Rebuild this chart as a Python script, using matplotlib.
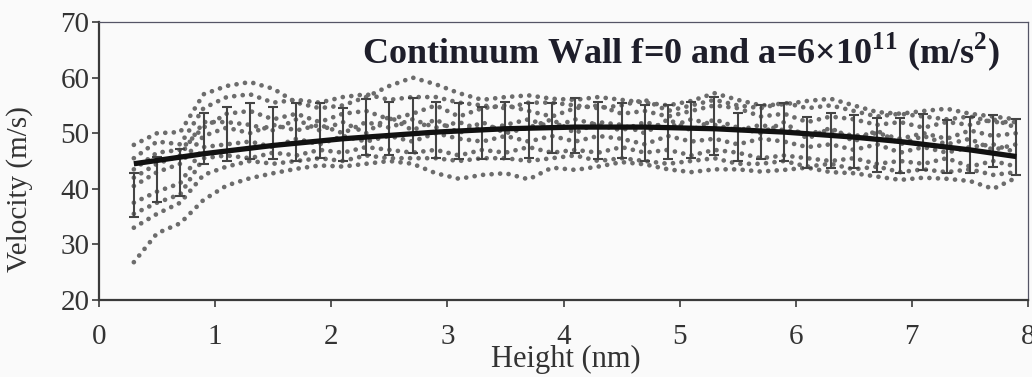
import numpy as np
import matplotlib
matplotlib.use("Agg")
import matplotlib.pyplot as plt

# Sample heights (nm) shared by every series
height = [0.3, 0.5, 0.7, 0.9, 1.1, 1.3, 1.5, 1.7, 1.9, 2.1, 2.3, 2.5, 2.7,
          2.9, 3.1, 3.3, 3.5, 3.7, 3.9, 4.1, 4.3, 4.5, 4.7, 4.9, 5.1, 5.3,
          5.5, 5.7, 5.9, 6.1, 6.3, 6.5, 6.7, 6.9, 7.1, 7.3, 7.5, 7.7, 7.9]

# Individual velocity profiles (m/s)
run_1 = [47.9, 50.0, 50.2, 57.0, 58.5, 59.2, 58.0, 55.5, 54.5, 55.0, 56.5, 58.5, 60.0,
         58.8, 57.2, 56.0, 56.5, 56.8, 56.2, 56.0, 56.5, 56.0, 55.5, 55.0, 55.8, 57.2,
         56.0, 55.0, 55.2, 55.8, 56.2, 55.0, 53.8, 53.5, 54.0, 54.4, 53.5, 53.0, 52.5]
run_2 = [26.8, 32.0, 33.8, 38.0, 40.6, 41.9, 42.8, 43.6, 44.2, 44.0, 44.5, 45.0, 44.5,
         42.8, 41.8, 42.5, 42.8, 41.7, 43.8, 43.4, 44.0, 44.8, 44.4, 43.5, 43.0, 43.5,
         43.5, 43.1, 43.4, 43.8, 43.0, 42.8, 42.2, 41.6, 42.0, 41.8, 41.4, 40.0, 42.0]
run_3 = [43.5, 46.5, 47.0, 51.0, 53.5, 54.0, 52.5, 53.5, 52.0, 53.5, 54.0, 52.5, 53.5,
         55.0, 53.0, 54.5, 55.0, 54.0, 53.0, 54.5, 55.0, 53.5, 54.0, 53.0, 54.0, 55.0,
         54.5, 53.0, 53.5, 52.0, 53.0, 52.5, 51.5, 52.0, 51.0, 52.0, 51.5, 52.5, 51.0]
run_4 = [40.5, 43.0, 44.5, 49.5, 51.0, 50.0, 51.5, 50.5, 51.5, 50.0, 52.0, 51.0, 52.5,
         51.0, 52.0, 50.5, 51.5, 52.5, 51.0, 52.5, 51.5, 50.5, 52.0, 51.0, 52.5, 51.5,
         50.5, 51.5, 50.5, 50.0, 50.5, 49.5, 50.0, 49.0, 50.0, 49.0, 50.5, 49.5, 50.0]
run_5 = [37.5, 39.5, 41.0, 47.5, 48.0, 48.5, 47.5, 49.0, 48.0, 49.5, 48.5, 49.5, 48.5,
         50.0, 49.0, 48.5, 49.5, 48.5, 49.5, 48.5, 49.5, 49.0, 48.0, 49.5, 48.5, 49.0,
         48.0, 49.0, 48.5, 47.5, 48.0, 47.0, 48.0, 46.5, 47.5, 46.5, 47.5, 48.0, 46.5]
run_6 = [35.5, 37.5, 39.0, 45.5, 46.0, 45.5, 46.5, 46.0, 47.0, 46.5, 47.5, 47.0, 46.5,
         47.0, 46.0, 47.0, 46.5, 47.5, 46.5, 47.0, 46.5, 47.5, 46.5, 47.0, 46.0, 47.0,
         46.5, 45.5, 46.0, 45.5, 45.0, 45.5, 44.5, 45.0, 44.5, 45.5, 44.0, 45.0, 44.0]
run_7 = [33.0, 35.5, 37.5, 42.5, 44.0, 45.0, 44.5, 45.0, 45.5, 45.0, 46.0, 45.5, 45.5,
         45.5, 45.0, 45.5, 45.5, 45.0, 45.5, 46.0, 45.0, 45.5, 45.0, 44.5, 45.0, 45.5,
         44.5, 44.5, 45.0, 44.0, 44.5, 43.5, 44.0, 43.0, 43.5, 43.0, 43.5, 42.5, 43.0]
run_8 = [45.5, 48.5, 48.0, 54.5, 56.5, 57.0, 55.5, 56.0, 55.5, 56.5, 57.0, 56.0, 56.5,
         56.5, 55.5, 55.0, 54.5, 55.5, 55.5, 55.0, 54.5, 55.0, 56.0, 54.0, 55.0, 56.0,
         55.0, 54.5, 55.5, 54.5, 55.0, 54.0, 53.0, 53.5, 53.0, 52.5, 53.0, 52.0, 52.0]
run_9 = [42.0, 44.5, 46.0, 52.0, 52.0, 51.5, 50.5, 52.5, 50.5, 52.0, 50.0, 53.0, 50.5,
         52.5, 50.0, 52.0, 50.0, 51.0, 52.5, 50.0, 52.0, 51.5, 50.0, 52.5, 50.5, 52.5,
         51.0, 50.0, 52.0, 49.0, 51.0, 48.5, 50.5, 48.0, 49.5, 48.0, 49.0, 47.0, 48.0]
runs = [run_1, run_2, run_3, run_4, run_5, run_6, run_7, run_8, run_9]

# Mean velocity and its spread
mean_velocity = [38.9, 41.7, 42.9, 49.1, 49.9, 50.4, 50.0, 50.2, 50.5, 49.8, 51.1, 50.9, 51.4,
                 50.6, 50.4, 50.0, 50.5, 50.5, 50.9, 51.4, 50.5, 50.5, 50.0, 50.2, 50.6, 51.3,
                 49.3, 50.2, 50.2, 48.3, 48.7, 48.5, 47.9, 47.8, 48.4, 47.6, 47.9, 48.6, 47.5]
spread = [3.9, 4.1, 4.2, 4.6, 4.9, 5.1, 4.7, 5.2, 5.0, 4.8, 5.0, 4.8, 5.0,
          5.1, 5.1, 4.7, 5.2, 5.0, 4.5, 5.0, 5.2, 5.0, 5.0, 4.9, 5.1, 5.2,
          4.3, 4.9, 5.2, 4.6, 5.0, 4.8, 4.9, 5.0, 5.0, 4.8, 5.1, 4.7, 5.0]

# Continuum-wall velocity profile
continuum = [44.5, 45.1, 45.7, 46.3, 46.8, 47.3, 47.8, 48.2, 48.6, 49.0, 49.3, 49.6, 49.9,
             50.2, 50.4, 50.6, 50.8, 50.9, 51.0, 51.1, 51.1, 51.1, 51.1, 51.0, 50.9, 50.8,
             50.6, 50.4, 50.2, 49.9, 49.6, 49.3, 48.9, 48.5, 48.0, 47.5, 47.0, 46.4, 45.8]

x_ticks = [0, 1, 2, 3, 4, 5, 6, 7, 8]
y_ticks = [20, 30, 40, 50, 60, 70]

serif = ["Liberation Serif", "DejaVu Serif"]
plt.rcParams["font.family"] = serif
plt.rcParams["mathtext.fontset"] = "custom"
plt.rcParams["mathtext.rm"] = "Liberation Serif"
plt.rcParams["mathtext.bf"] = "Liberation Serif:bold"

fig = plt.figure(figsize=(10.32, 3.77), dpi=100, facecolor="#fafafa")
ax = fig.add_axes([99 / 1032, 1 - 300 / 377, 929 / 1032, 278 / 377])
ax.set_facecolor("#fafafa")

for run in runs:
    ax.plot(height, run, color="#6c6c6c", lw=3.4, linestyle=(0, (0.01, 1.8)),
            dash_capstyle="round", zorder=2)

ax.errorbar(height, mean_velocity, yerr=spread, fmt="none", ecolor="#444444",
            elinewidth=1.5, capsize=3.8, capthick=1.5, zorder=3)

ax.plot(height, continuum, color="#111111", lw=3.8, solid_capstyle="butt", zorder=4)

ax.set_xlim(0, 8)
ax.set_ylim(20, 70)
ax.set_xticks(x_ticks)
ax.set_yticks(y_ticks)

for side in ("left", "bottom"):
    ax.spines[side].set_color("#3a3a3a")
    ax.spines[side].set_linewidth(1.6)
for side in ("top", "right"):
    ax.spines[side].set_color("#555566")
    ax.spines[side].set_linewidth(0.9)

ax.tick_params(axis="both", direction="out", length=5, width=1.2, color="#3a3a3a",
               labelsize=21, labelcolor="#333333")
ax.tick_params(axis="y", pad=2)
ax.tick_params(axis="x", pad=12)

ax.set_xlabel("Height (nm)", fontsize=22, color="#333333")
ax.xaxis.set_label_coords(0.503, -0.16)
ax.set_ylabel("Velocity (m/s)", fontsize=21, color="#333333")
ax.yaxis.set_label_coords(-0.071, 0.40)

fig.text(1000 / 1032, 1 - 63 / 377,
         r"Continuum Wall f=0 and a=6×10$^{\mathbf{11}}$ (m/s$^{\mathbf{2}}$)",
         ha="right", va="baseline", fontsize=26, fontweight="bold", color="#1e1e2a")

fig.savefig("out.png", dpi=100, facecolor=fig.get_facecolor())
